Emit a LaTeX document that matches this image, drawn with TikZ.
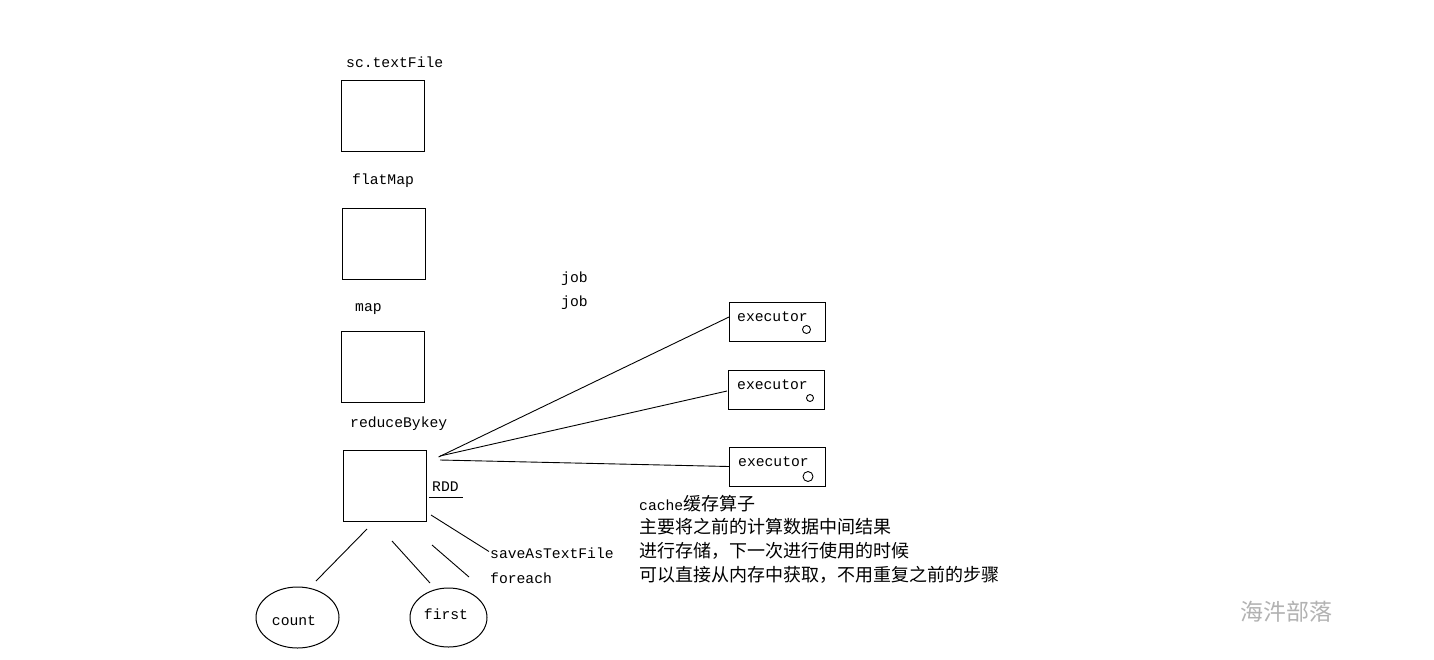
\documentclass[tikz,border=0pt]{standalone}
\usepackage{fontspec}
\setmainfont{Liberation Mono}
\newfontfamily\cjk{Noto Sans CJK SC}
\begin{document}
\begin{tikzpicture}[x=1pt,y=-1pt,
  lbl/.style={font=\fontsize{14.7}{16}\selectfont, inner sep=0pt, anchor=west},
  zh/.style={font=\fontsize{18}{20}\selectfont\cjk, inner sep=0pt, anchor=west},
  rdd/.style={draw, line width=1pt, minimum width=83pt, minimum height=71pt, inner sep=0pt},
  exec/.style={draw, line width=1pt, minimum width=96pt, minimum height=39pt, inner sep=0pt},
  dot/.style={draw, line width=0.9pt, circle, inner sep=0pt},
  oval/.style={draw, line width=1pt, ellipse, inner sep=0pt},
  conn/.style={line width=0.9pt}]
\usetikzlibrary{shapes.geometric}
\path[use as bounding box, fill=white] (0,0) rectangle (1434,659);

% labels
\node[lbl] (l1) at (346,62) {sc.textFile};
\node[lbl] (l2) at (352,181) {flatMap};
\node[lbl] (l3) at (355,309) {map};
\node[lbl] (l4) at (350,424) {reduceBykey};

% boxes
\node[rdd] (b1) at (382.5,115.5) {};
\node[rdd] (b2) at (383.5,243.5) {};
\node[rdd] (b3) at (382.5,366.5) {};
\node[rdd] (b4) at (384.5,485.5) {};

\node[lbl] (rddl) at (432,487) {RDD};
\coordinate (u1) at (429,497);
\coordinate (u2) at (463,497);
\draw[conn] (u1) -- (u2);

% job
\node[lbl] (j1) at (561,279) {job};
\node[lbl] (j2) at (561,303) {job};

% executors
\node[exec] (e1) at (777,321.5) {};
\node[exec] (e2) at (776,389.5) {};
\node[exec] (e3) at (777.5,466.5) {};
\node[lbl] (t1) at (737,317) {executor};
\node[lbl] (t2) at (737,385) {executor};
\node[lbl] (t3) at (738,462) {executor};
\node[dot, minimum size=8pt] (c1) at (806.5,329.5) {};
\node[dot, minimum size=7pt] (c2) at (810,398) {};
\node[dot, minimum size=10pt] (c3) at (808,476.5) {};

\coordinate (s1) at (438.5,457);
\coordinate (s2) at (440,456);
\coordinate (s3) at (440,460);
\coordinate (f1) at (729,317);
\coordinate (f2) at (727,391);
\draw[conn] (s1) -- (f1);
\draw[conn] (s2) -- (f2);
\draw[conn] (s3) -- (e3.west);

% actions
\node[lbl] (sv) at (490,553) {saveAsTextFile};
\node[lbl] (fe) at (490,578) {foreach};
\coordinate (a0) at (431,515);
\coordinate (a1) at (489,551.5);
\draw[conn] (a0) -- (a1);

\coordinate (d1) at (367,529);
\coordinate (d2) at (316,581);
\coordinate (d3) at (392,541);
\coordinate (d4) at (430,583);
\coordinate (d5) at (432,545);
\coordinate (d6) at (469,577);
\draw[conn] (d1) -- (d2);
\draw[conn] (d3) -- (d4);
\draw[conn] (d5) -- (d6);

\node[oval, minimum width=83pt, minimum height=61pt] (o1) at (297.5,617.5) {};
\node[lbl, anchor=center] (ct) at (294,621) {count};
\node[oval, minimum width=77pt, minimum height=59pt] (o2) at (448.5,617.5) {};
\node[lbl, anchor=center] (ft) at (446,614) {first};

% cache text
\node[lbl] (k1) at (639,504) {cache{\cjk\fontsize{18}{20}\selectfont 缓存算子}};
\node[zh] (k2) at (639,527) {主要将之前的计算数据中间结果};
\node[zh] (k3) at (639,551) {进行存储，下一次进行使用的时候};
\node[zh] (k4) at (639,575) {可以直接从内存中获取，不用重复之前的步骤};

% watermark
\node[font=\fontsize{23}{26}\selectfont\cjk, text=black!30, inner sep=0pt, anchor=west] (wm) at (1240,612) {海汼部落};
\end{tikzpicture}
\end{document}
